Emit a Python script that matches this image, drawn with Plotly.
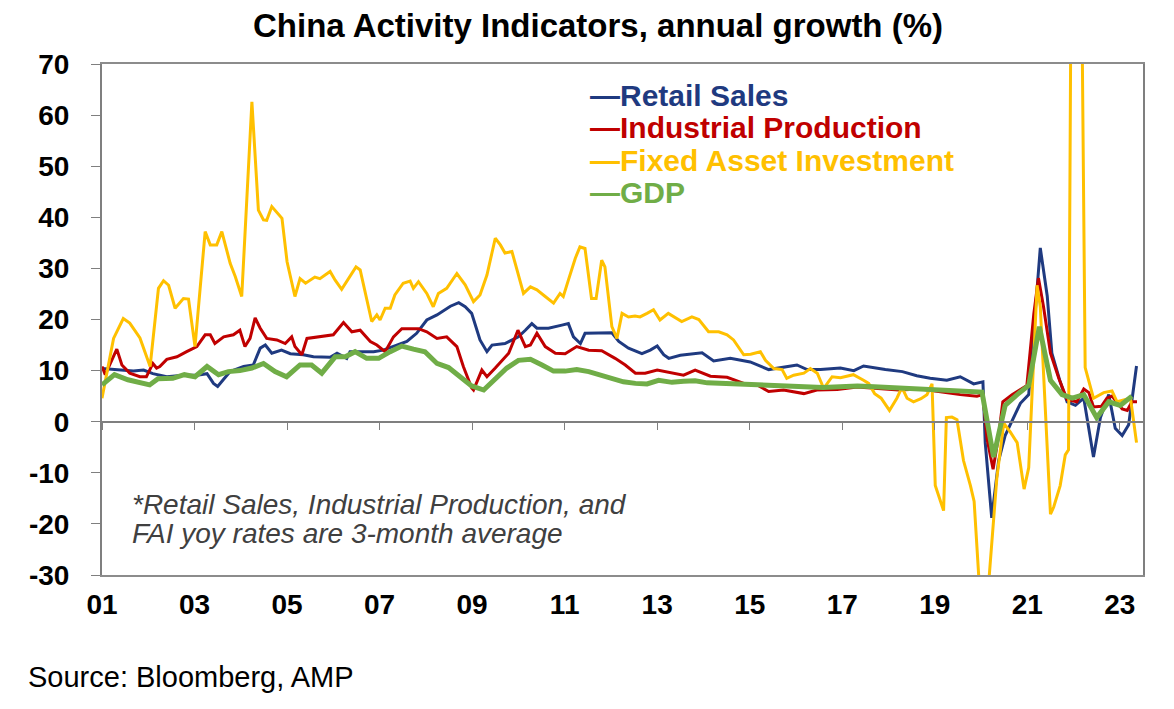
import plotly.graph_objects as go

# China activity indicators, annual growth (%)
# x values are decimal years (2001.0 = Jan 2001)

# Retail Sales (3-month avg yoy)
rs_x = [2001.00, 2001.39, 2001.68, 2001.90, 2002.10, 2002.40, 2002.76, 2003.05, 2003.27, 2003.41,
        2003.50, 2003.62, 2003.77, 2004.06, 2004.27, 2004.42, 2004.53, 2004.67, 2004.88, 2005.07,
        2005.35, 2005.57, 2005.93, 2006.08, 2006.29, 2006.36, 2006.58, 2006.87, 2007.08, 2007.30,
        2007.59, 2007.80, 2008.02, 2008.24, 2008.53, 2008.71, 2008.85, 2008.99, 2009.17, 2009.32,
        2009.43, 2009.71, 2010.00, 2010.15, 2010.29, 2010.40, 2010.65, 2010.94, 2011.08, 2011.19,
        2011.34, 2011.44, 2011.73, 2012.02, 2012.17, 2012.38, 2012.67, 2012.85, 2013.00, 2013.14,
        2013.25, 2013.50, 2013.97, 2014.22, 2014.58, 2015.01, 2015.41, 2015.73, 2016.02, 2016.24,
        2016.53, 2016.96, 2017.25, 2017.46, 2017.93, 2018.30, 2018.61, 2018.90, 2019.26, 2019.55,
        2019.84, 2020.04, 2020.09, 2020.23, 2020.38, 2020.52, 2020.70, 2020.85, 2021.03, 2021.28,
        2021.43, 2021.53, 2021.71, 2021.86, 2022.04, 2022.22, 2022.43, 2022.58, 2022.76, 2022.90,
        2023.05, 2023.19, 2023.36]
rs_y = [10.4, 10.1, 9.9, 10.1, 9.4, 8.8, 9.1, 9.1, 9.4, 7.5,
        6.9, 8.2, 9.8, 10.8, 11.1, 14.4, 15.0, 13.4, 14.0, 13.3,
        13.1, 12.7, 12.6, 13.4, 12.4, 13.7, 13.7, 13.7, 14.0, 14.7,
        15.7, 17.3, 19.9, 20.9, 22.6, 23.3, 22.5, 21.2, 16.0, 13.7,
        15.0, 15.3, 16.6, 17.9, 19.2, 18.3, 18.3, 18.9, 19.2, 16.6,
        15.3, 17.3, 17.3, 17.4, 15.7, 14.4, 13.3, 14.0, 14.8, 13.1,
        12.4, 13.0, 13.5, 11.9, 12.4, 11.7, 10.2, 10.6, 11.1, 10.2,
        10.2, 10.5, 10.0, 10.9, 10.2, 9.8, 9.0, 8.5, 8.1, 8.8,
        7.4, 7.8, -4.1, -18.8, -7.6, -2.7, 0.8, 3.6, 5.3, 34.0,
        24.6, 13.4, 7.8, 3.9, 3.2, 4.6, -6.9, 0.8, 5.3, -1.3,
        -2.7, -0.6, 10.9]

# Industrial Production (3-month avg yoy)
ip_x = [2001.00, 2001.07, 2001.32, 2001.43, 2001.60, 2001.82, 2001.96, 2002.10, 2002.18, 2002.25,
        2002.40, 2002.62, 2002.83, 2003.05, 2003.23, 2003.34, 2003.44, 2003.63, 2003.84, 2003.98,
        2004.09, 2004.20, 2004.31, 2004.42, 2004.56, 2004.78, 2004.96, 2005.10, 2005.17, 2005.32,
        2005.43, 2005.71, 2006.00, 2006.22, 2006.40, 2006.58, 2006.80, 2006.94, 2007.12, 2007.30,
        2007.48, 2007.84, 2008.02, 2008.24, 2008.45, 2008.67, 2008.81, 2008.99, 2009.03, 2009.21,
        2009.32, 2009.50, 2009.79, 2009.99, 2010.15, 2010.26, 2010.40, 2010.58, 2010.80, 2011.01,
        2011.26, 2011.52, 2011.80, 2012.09, 2012.31, 2012.53, 2012.74, 2013.00, 2013.17, 2013.35,
        2013.57, 2013.82, 2014.15, 2014.51, 2014.87, 2015.16, 2015.41, 2015.73, 2016.17, 2016.45,
        2016.89, 2017.32, 2017.75, 2018.22, 2018.69, 2019.19, 2019.55, 2019.91, 2020.04, 2020.13,
        2020.26, 2020.38, 2020.47, 2020.67, 2020.85, 2020.99, 2021.14, 2021.24, 2021.35, 2021.50,
        2021.68, 2021.86, 2022.07, 2022.22, 2022.33, 2022.43, 2022.60, 2022.72, 2022.83, 2023.05,
        2023.16, 2023.26, 2023.37]
ip_y = [10.8, 9.2, 14.2, 11.1, 9.5, 8.8, 8.8, 11.4, 10.5, 10.8,
        12.2, 12.7, 13.7, 14.7, 17.0, 17.0, 15.3, 16.6, 17.0, 17.9,
        14.7, 16.3, 20.3, 18.3, 16.3, 16.0, 15.3, 16.6, 14.7, 13.1,
        16.3, 16.6, 17.0, 19.4, 17.6, 17.9, 15.7, 15.0, 13.7, 16.6,
        18.2, 18.2, 17.6, 16.3, 16.6, 14.7, 10.8, 6.6, 6.2, 10.1,
        8.8, 10.5, 13.4, 17.9, 14.7, 15.0, 17.3, 14.7, 13.4, 13.3,
        14.7, 14.0, 13.9, 12.4, 11.1, 9.5, 9.5, 10.1, 9.8, 9.4,
        9.1, 10.1, 8.9, 8.7, 7.5, 7.2, 5.9, 6.2, 5.5, 6.2,
        6.3, 6.8, 6.5, 6.2, 6.4, 5.7, 5.3, 5.0, 5.3, -3.4,
        -9.3, -2.7, 3.9, 5.3, 6.4, 7.1, 21.1, 28.1, 22.5, 13.4,
        8.5, 4.3, 3.9, 6.4, 5.7, 2.9, 3.0, 4.6, 5.0, 2.5,
        2.2, 3.9, 3.9]

# Fixed Asset Investment (3-month avg yoy)
fai_x = [2001.00, 2001.25, 2001.46, 2001.60, 2001.82, 2002.04, 2002.22, 2002.33, 2002.44, 2002.58,
         2002.76, 2002.87, 2003.01, 2003.23, 2003.34, 2003.48, 2003.59, 2003.77, 2003.88, 2004.02,
         2004.24, 2004.38, 2004.49, 2004.56, 2004.67, 2004.89, 2005.00, 2005.17, 2005.28, 2005.40,
         2005.60, 2005.71, 2005.93, 2006.04, 2006.18, 2006.33, 2006.49, 2006.58, 2006.69, 2006.83,
         2006.94, 2007.01, 2007.12, 2007.23, 2007.33, 2007.51, 2007.66, 2007.73, 2007.84, 2008.02,
         2008.16, 2008.27, 2008.45, 2008.67, 2008.85, 2009.03, 2009.17, 2009.32, 2009.50, 2009.61,
         2009.71, 2009.86, 2009.97, 2010.11, 2010.26, 2010.40, 2010.58, 2010.76, 2010.90, 2010.97,
         2011.08, 2011.23, 2011.33, 2011.44, 2011.58, 2011.68, 2011.80, 2011.87, 2012.02, 2012.13,
         2012.24, 2012.38, 2012.52, 2012.63, 2012.78, 2012.92, 2013.06, 2013.24, 2013.53, 2013.75,
         2013.90, 2014.11, 2014.33, 2014.51, 2014.65, 2014.87, 2015.02, 2015.23, 2015.34, 2015.52,
         2015.70, 2015.80, 2015.95, 2016.17, 2016.31, 2016.46, 2016.60, 2016.78, 2016.96, 2017.24,
         2017.46, 2017.57, 2017.70, 2017.84, 2018.02, 2018.18, 2018.29, 2018.40, 2018.54, 2018.70,
         2018.83, 2018.94, 2019.01, 2019.08, 2019.19, 2019.25, 2019.37, 2019.48, 2019.62, 2019.77,
         2019.85, 2020.05, 2020.34, 2020.49, 2020.63, 2020.78, 2020.93, 2021.03, 2021.21, 2021.28,
         2021.35, 2021.50, 2021.57, 2021.71, 2021.82, 2021.89, 2021.97, 2022.13, 2022.25, 2022.43,
         2022.65, 2022.83, 2022.94, 2023.23, 2023.36]
fai_y = [4.6, 16.3, 20.2, 19.3, 16.4, 10.8, 26.1, 27.6, 26.7, 22.2,
         24.1, 24.0, 14.7, 37.2, 34.6, 34.6, 37.2, 31.0, 28.4, 24.5,
         62.6, 41.4, 39.5, 39.4, 42.1, 39.8, 31.3, 24.5, 28.0, 27.1,
         28.3, 28.0, 29.4, 27.7, 25.9, 28.1, 30.3, 29.7, 25.1, 19.6,
         20.9, 19.9, 22.2, 22.2, 24.8, 27.1, 27.5, 26.1, 27.4, 25.1,
         22.5, 25.1, 26.1, 29.0, 26.8, 23.5, 24.8, 28.7, 35.9, 34.6,
         33.0, 33.3, 29.7, 25.1, 26.4, 25.8, 24.5, 23.2, 25.1, 24.5,
         27.7, 32.0, 34.2, 33.9, 24.1, 24.1, 31.6, 30.3, 18.6, 16.3,
         21.2, 20.5, 20.7, 20.5, 21.2, 21.9, 19.9, 21.2, 19.6, 20.5,
         20.0, 17.6, 17.6, 17.0, 16.0, 13.1, 13.2, 13.7, 12.0, 10.4,
         10.2, 8.5, 9.1, 9.5, 10.4, 9.5, 6.5, 8.8, 8.6, 9.2,
         8.1, 7.5, 5.5, 4.6, 2.2, 4.6, 6.7, 4.6, 3.9, 4.5,
         5.3, 7.4, -12.5, -14.3, -17.4, 0.8, 0.9, 0.4, -7.6, -12.5,
         -15.6, -45.0, -11.1, -0.3, -2.0, -4.1, -13.2, -9.0, 26.7, 22.5,
         9.9, -18.1, -16.7, -12.5, -6.5, -5.5, 130.0, 130.0, 10.6, 4.6,
         5.7, 6.0, 3.9, 4.6, -4.1]

# GDP (quarterly yoy)
gdp_x = [2001.00, 2001.27, 2001.56, 2002.03, 2002.21, 2002.53, 2002.78, 2003.01, 2003.27, 2003.52,
         2003.73, 2003.98, 2004.24, 2004.49, 2004.74, 2004.99, 2005.28, 2005.53, 2005.75, 2006.04,
         2006.26, 2006.47, 2006.72, 2006.98, 2007.23, 2007.48, 2007.73, 2007.98, 2008.24, 2008.49,
         2008.74, 2008.99, 2009.25, 2009.50, 2009.75, 2010.00, 2010.26, 2010.51, 2010.76, 2011.01,
         2011.26, 2011.52, 2011.77, 2012.02, 2012.27, 2012.53, 2012.78, 2013.03, 2013.32, 2013.57,
         2013.82, 2014.08, 2014.33, 2014.58, 2014.83, 2015.08, 2015.33, 2015.58, 2015.83, 2016.08,
         2016.33, 2016.58, 2016.83, 2017.08, 2017.33, 2017.58, 2017.83, 2018.08, 2018.33, 2018.58,
         2018.83, 2019.08, 2019.33, 2019.58, 2019.83, 2020.02, 2020.27, 2020.52, 2020.78, 2021.03,
         2021.26, 2021.50, 2021.75, 2021.97, 2022.22, 2022.50, 2022.76, 2023.01, 2023.26]
gdp_y = [7.2, 9.2, 8.2, 7.2, 8.4, 8.5, 9.2, 8.8, 10.8, 9.2,
         9.8, 10.0, 10.5, 11.4, 9.8, 8.8, 11.1, 11.1, 9.5, 12.7,
         12.7, 13.7, 12.4, 12.4, 13.7, 14.8, 14.2, 13.7, 11.4, 10.6,
         8.8, 7.0, 6.2, 8.2, 10.5, 12.0, 12.2, 11.1, 9.9, 9.9,
         10.2, 9.8, 9.1, 8.5, 7.8, 7.5, 7.4, 8.1, 7.7, 7.9,
         8.0, 7.6, 7.5, 7.4, 7.2, 7.1, 7.0, 6.9, 6.9, 6.8,
         6.7, 6.7, 6.8, 7.0, 7.0, 6.9, 6.8, 6.8, 6.7, 6.5,
         6.4, 6.3, 6.1, 6.0, 6.0, 5.8, -6.9, 3.2, 5.3, 7.1,
         18.6, 8.1, 5.3, 4.6, 5.3, 0.8, 3.9, 3.2, 5.0]

year_ticks = list(range(2001, 2024, 2))
year_labels = ["%02d" % (y % 100) for y in year_ticks]
y_ticks = list(range(-30, 71, 10))
y_labels = [str(v) for v in y_ticks]   # plain hyphen minus, like the original

series = [
    ("Retail Sales", rs_x, rs_y, "#1F3A80", 3),
    ("Industrial Production", ip_x, ip_y, "#C00000", 3),
    ("Fixed Asset Investment", fai_x, fai_y, "#FFC000", 3),
    ("GDP", gdp_x, gdp_y, "#70AD47", 5),
]

FONT = "Liberation Sans, Arial, sans-serif"
GREY = "#8C8C8C"

fig = go.Figure()
for name, xs, ys, color, width in series:
    # GDP sits on the overlay axis that carries the zero-line ticks (drawn on top)
    fig.add_trace(go.Scatter(x=xs, y=ys, name=name, mode="lines",
                             xaxis="x2" if name == "GDP" else "x",
                             line=dict(color=color, width=width), showlegend=False))

# legend drawn as coloured text rows (tight spacing like the original)
legend_y = [0.9374, 0.8748, 0.8121, 0.7495]
for (name, xs, ys, color, width), ly in zip(series, legend_y):
    fig.add_annotation(text="<b>\u2014" + name + "</b>", x=0.467, y=ly, xref="paper", yref="paper",
                       xanchor="left", yanchor="middle", showarrow=False,
                       font=dict(family=FONT, size=30, color=color))

note_lines = ["*Retail Sales, Industrial Production, and", "FAI yoy rates are 3-month average"]
for txt, ny in zip(note_lines, [0.137, 0.082]):
    fig.add_annotation(text="<i>" + txt + "</i>", x=0.027, y=ny, xref="paper", yref="paper",
                       xanchor="left", yanchor="middle", showarrow=False,
                       font=dict(family=FONT, size=28, color="#404040"))

fig.add_annotation(text="Source: Bloomberg, AMP", x=-0.073, y=-0.2, xref="paper", yref="paper",
                   xanchor="left", yanchor="middle", showarrow=False,
                   font=dict(family=FONT, size=29, color="black"))

fig.update_layout(
    width=1166, height=701,
    margin=dict(l=94, r=31, t=56, b=134),
    paper_bgcolor="white", plot_bgcolor="white",
    title=dict(text="<b>China Activity Indicators, annual growth (%)</b>", x=0.4765, y=0.975,
               xanchor="center", yanchor="middle", xref="paper",
               font=dict(family=FONT, size=33, color="black")),
    font=dict(family=FONT),
    xaxis=dict(range=[2001, 2023.5], tickvals=year_ticks, ticktext=year_labels,
               ticks="outside", ticklen=3, tickcolor="rgba(0,0,0,0)",
               showline=True, linecolor=GREY, linewidth=2, mirror=True,
               showgrid=False, zeroline=False,
               tickfont=dict(family=FONT, size=28, color="black", weight="bold")),
    # second x axis sitting on the zero line, carrying the tick marks
    xaxis2=dict(range=[2001, 2023.5], overlaying="x", anchor="free", position=0.3,
                tickvals=year_ticks, ticks="outside", ticklen=8, tickcolor="#7F7F7F",
                showticklabels=False, showline=True, linecolor="#7F7F7F", linewidth=1.5,
                showgrid=False, zeroline=False),
    yaxis=dict(range=[-30, 70], tickvals=y_ticks, ticktext=y_labels,
               ticks="outside", ticklen=9, tickcolor="#7F7F7F",
               ticklabelstandoff=16,
               showline=True, linecolor="#7F7F7F", linewidth=2, mirror=True,
               showgrid=False, zeroline=False,
               tickfont=dict(family=FONT, size=28, color="black", weight="bold")),
)

fig.write_html("out.html")
